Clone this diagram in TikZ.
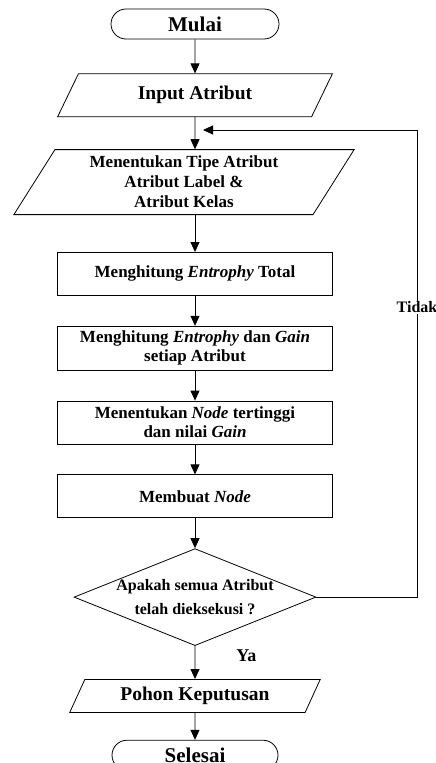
\documentclass[tikz,border=0pt]{standalone}
\usepackage{fontspec}
\setmainfont{Liberation Serif}
\usetikzlibrary{arrows.meta, positioning, shapes.geometric}

\tikzset{
    terminal/.style={draw, rounded corners=15pt, minimum width=168pt, minimum height=30pt, inner sep=0pt, font=\fontsize{21}{23}\selectfont\bfseries},
    datas/.style={draw, trapezium, trapezium left angle=60, trapezium right angle=120, trapezium stretches=true, minimum width=275pt, minimum height=43pt, inner sep=0pt, align=center, font=\fontsize{19.5}{21}\selectfont\bfseries},
    proses/.style={draw, rectangle, minimum width=275pt, minimum height=43pt, inner sep=0pt, align=center, font=\fontsize{17}{19}\selectfont\bfseries},
    keputusan/.style={draw, diamond, aspect=2.5, minimum width=242pt, minimum height=97pt, inner sep=-8pt, align=center, font=\fontsize{16}{24}\selectfont\bfseries},
    panah/.style={-{Triangle[length=10pt, width=9pt]}, line width=0.8pt},
}

\begin{document}
\begin{tikzpicture}[x=1pt, y=1pt, line width=0.8pt]
    \useasboundingbox (0,0) rectangle (436,-763);

    \node[terminal] (mulai) at (195,-24) {Mulai};
    \node[datas, below=34pt of mulai] (input) {Input Atribut};
    \node[datas, below=32pt of input, xshift=-11pt, minimum width=341pt, minimum height=65pt, font=\fontsize{17}{20}\selectfont\bfseries] (tipe) {Menentukan Tipe Atribut\\Atribut Label \&\\Atribut Kelas};
    \node[proses, below=37pt of tipe, xshift=11pt] (total) {Menghitung \textit{Entrophy} Total};
    \node[proses, below=30pt of total, minimum height=44pt] (gain) {Menghitung \textit{Entrophy} dan \textit{Gain}\\setiap Atribut};
    \node[proses, below=30pt of gain] (tertinggi) {Menentukan \textit{Node} tertinggi\\dan nilai \textit{Gain}};
    \node[proses, below=30pt of tertinggi] (buat) {Membuat \textit{Node}};
    \node[keputusan, below=30pt of buat] (cek) {Apakah semua Atribut\\telah dieksekusi ?};
    \node[datas, below=33pt of cek, minimum width=251pt, minimum height=33pt] (pohon) {Pohon Keputusan};
    \node[terminal, below=27pt of pohon, minimum width=166pt] (selesai) {Selesai};

    \coordinate (sudut) at (417,-130);
    \coordinate (balik) at (203,-130);

    \draw[panah] (mulai) -- (input);
    \draw[panah] (input) -- (input.south |- tipe.north);
    \draw[panah] (tipe.south -| total) -- (total);
    \draw[panah] (total) -- (gain);
    \draw[panah] (gain) -- (tertinggi);
    \draw[panah] (tertinggi) -- (buat);
    \draw[panah] (buat) -- (cek);
    \draw[panah] (cek) -- node[pos=0.3, right=40pt, inner sep=1pt, font=\fontsize{18}{20}\selectfont\bfseries] {Ya} (pohon);
    \draw[panah] (pohon) -- (selesai);
    \draw[panah] (cek.east) -| node[pos=0.81, fill=white, inner sep=1pt, font=\fontsize{16}{18}\selectfont\bfseries] {Tidak} (sudut) -- (balik);
\end{tikzpicture}
\end{document}
